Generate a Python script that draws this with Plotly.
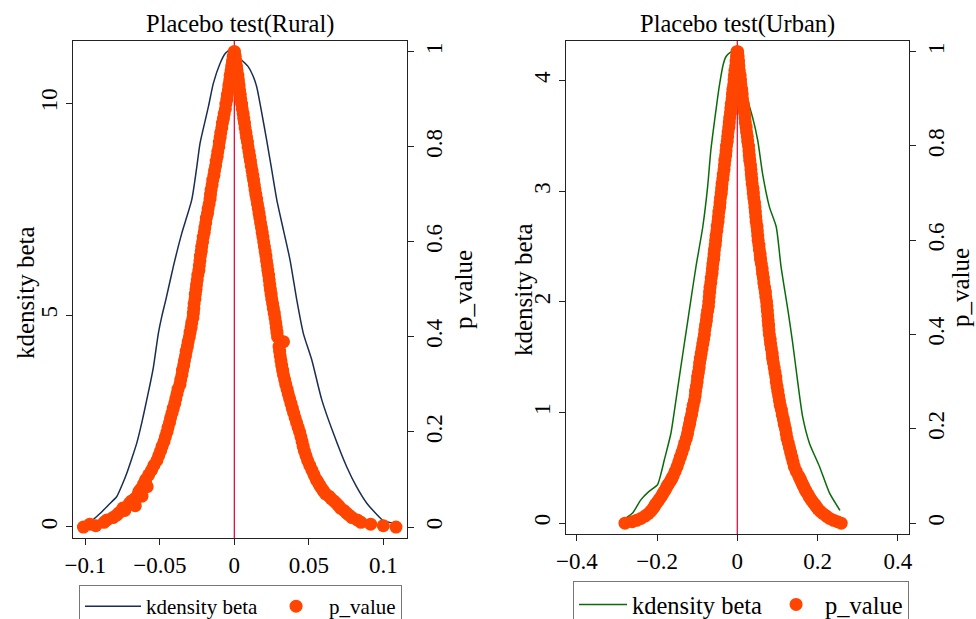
import plotly.graph_objects as go

# ---- data ----
# kdensity of the placebo coefficients
rural_kd_x = [-0.100, -0.0957, -0.0901, -0.0845, -0.0789, -0.0755, -0.0722, -0.0690, -0.0655,
              -0.0620, -0.0588, -0.0565, -0.0543, -0.0510, -0.0485, -0.0460, -0.0410, -0.0353,
              -0.0286, -0.0252, -0.0230, -0.0174, -0.0141, -0.0096, -0.0060, -0.0030, 0.0,
              0.0038, 0.0094, 0.0125, 0.0150, 0.0180, 0.0217, 0.0250, 0.0285, 0.0330, 0.0374,
              0.0419, 0.0463, 0.0520, 0.0587, 0.0665, 0.0754, 0.0820, 0.0889, 0.0950, 0.1000,
              0.1067]
rural_kd_y = [0.10, 0.15, 0.32, 0.52, 0.72, 0.98, 1.27, 1.60, 1.98,
              2.48, 3.00, 3.38, 3.78, 4.57, 5.00, 5.36, 6.14, 6.93,
              7.72, 8.50, 9.06, 9.92, 10.47, 10.94, 11.18, 11.26, 11.24,
              11.06, 10.86, 10.65, 10.39, 9.85, 9.13, 8.45, 7.72, 7.00, 6.30,
              5.36, 4.57, 3.94, 3.00, 2.21, 1.42, 0.95, 0.56, 0.32, 0.15,
              0.09]

urban_kd_x = [-0.278, -0.261, -0.2405, -0.220, -0.199, -0.190, -0.182, -0.1656, -0.153,
              -0.1406, -0.128, -0.1156, -0.103, -0.086, -0.074, -0.066, -0.053, -0.045,
              -0.035, -0.028, -0.020, -0.014, -0.006, 0.0, 0.009, 0.0217, 0.038, 0.051,
              0.063, 0.080, 0.097, 0.109, 0.126, 0.138, 0.151, 0.163, 0.180, 0.205, 0.230,
              0.256]
urban_kd_y = [0.045, 0.09, 0.21, 0.286, 0.346, 0.45, 0.57, 0.81, 1.11,
              1.415, 1.72, 2.02, 2.32, 2.68, 3.04, 3.37, 3.74, 3.95,
              4.15, 4.22, 4.25, 4.26, 4.22, 4.12, 3.95, 3.86, 3.67, 3.46,
              3.16, 2.86, 2.68, 2.32, 1.93, 1.63, 1.265, 0.96, 0.72, 0.51, 0.27,
              0.114]

# p-values of the placebo regressions (same p levels for every branch)
p_levels = [1.00, 0.99, 0.98, 0.97, 0.96, 0.95, 0.94, 0.93, 0.92, 0.91,
            0.90, 0.89, 0.88, 0.87, 0.86, 0.85, 0.84, 0.83, 0.82, 0.81,
            0.80, 0.79, 0.78, 0.77, 0.76, 0.75, 0.74, 0.73, 0.72, 0.71,
            0.70, 0.69, 0.68, 0.67, 0.66, 0.65, 0.64, 0.63, 0.62, 0.61,
            0.60, 0.59, 0.58, 0.57, 0.56, 0.55, 0.54, 0.53, 0.52, 0.51,
            0.50, 0.49, 0.48, 0.47, 0.46, 0.45, 0.44, 0.43, 0.42, 0.41,
            0.40, 0.39, 0.38, 0.37, 0.36, 0.35, 0.34, 0.33, 0.32, 0.31,
            0.30, 0.29, 0.28, 0.27, 0.26, 0.25, 0.24, 0.23, 0.22, 0.21,
            0.20, 0.19, 0.18, 0.17, 0.16, 0.15, 0.14, 0.13, 0.12, 0.11,
            0.10, 0.095, 0.09, 0.085, 0.08, 0.075, 0.07, 0.065, 0.06, 0.055,
            0.05, 0.045, 0.04, 0.035, 0.03, 0.025, 0.02, 0.015, 0.01, 0.006,
            0.003, 0.0]

# placebo coefficient estimates (negative / positive branch)
rural_beta_neg = [-0.0000, -0.0008, -0.0012, -0.0018, -0.0022, -0.0028, -0.0030, -0.0037, -0.0040, -0.0047,
                  -0.0050, -0.0057, -0.0060, -0.0068, -0.0073, -0.0080, -0.0084, -0.0091, -0.0095, -0.0101,
                  -0.0104, -0.0111, -0.0115, -0.0122, -0.0126, -0.0133, -0.0137, -0.0145, -0.0149, -0.0156,
                  -0.0160, -0.0163, -0.0169, -0.0176, -0.0180, -0.0188, -0.0192, -0.0198, -0.0202, -0.0209,
                  -0.0213, -0.0219, -0.0222, -0.0228, -0.0231, -0.0235, -0.0238, -0.0245, -0.0249, -0.0254,
                  -0.0257, -0.0262, -0.0264, -0.0270, -0.0272, -0.0275, -0.0278, -0.0286, -0.0290, -0.0297,
                  -0.0302, -0.0310, -0.0315, -0.0323, -0.0328, -0.0335, -0.0340, -0.0348, -0.0352, -0.0360,
                  -0.0365, -0.0378, -0.0385, -0.0393, -0.0400, -0.0410, -0.0418, -0.0428, -0.0435, -0.0445,
                  -0.0452, -0.0463, -0.0472, -0.0485, -0.0495, -0.0508, -0.0520, -0.0540, -0.0555, -0.0575,
                  -0.0595, -0.0600, -0.0610, -0.0585, -0.0628, -0.0640, -0.0645, -0.0620, -0.0668, -0.0690,
                  -0.0705, -0.0665, -0.0748, -0.0735, -0.0775, -0.0790, -0.0815, -0.0855, -0.0875, -0.0970,
                  -0.0930, -0.1013]
rural_beta_pos = [0.0000, 0.0006, 0.0010, 0.0015, 0.0018, 0.0024, 0.0027, 0.0032, 0.0035, 0.0040,
                  0.0043, 0.0049, 0.0053, 0.0059, 0.0063, 0.0068, 0.0072, 0.0078, 0.0082, 0.0088,
                  0.0092, 0.0098, 0.0103, 0.0108, 0.0113, 0.0119, 0.0124, 0.0129, 0.0134, 0.0139,
                  0.0144, 0.0150, 0.0155, 0.0161, 0.0166, 0.0171, 0.0176, 0.0182, 0.0187, 0.0192,
                  0.0197, 0.0202, 0.0207, 0.0212, 0.0216, 0.0221, 0.0225, 0.0230, 0.0234, 0.0238,
                  0.0242, 0.0247, 0.0251, 0.0257, 0.0262, 0.0268, 0.0273, 0.0278, 0.0282, 0.0286,
                  0.0290, 0.0330, 0.0300, 0.0304, 0.0308, 0.0313, 0.0318, 0.0324, 0.0330, 0.0338,
                  0.0345, 0.0354, 0.0362, 0.0371, 0.0380, 0.0389, 0.0398, 0.0408, 0.0418, 0.0428,
                  0.0438, 0.0447, 0.0455, 0.0462, 0.0470, 0.0481, 0.0492, 0.0506, 0.0520, 0.0535,
                  0.0550, 0.0560, 0.0570, 0.0578, 0.0590, 0.0600, 0.0612, 0.0635, 0.0650, 0.0668,
                  0.0685, 0.0700, 0.0712, 0.0735, 0.0752, 0.0770, 0.0790, 0.0825, 0.0850, 0.0915,
                  0.1000, 0.1085]

urban_beta_neg = [-0.001, -0.002, -0.003, -0.004, -0.006, -0.007, -0.008, -0.009, -0.011, -0.012,
                  -0.013, -0.015, -0.016, -0.017, -0.019, -0.020, -0.021, -0.023, -0.024, -0.025,
                  -0.027, -0.028, -0.029, -0.031, -0.032, -0.033, -0.035, -0.036, -0.038, -0.039,
                  -0.040, -0.042, -0.043, -0.044, -0.046, -0.047, -0.048, -0.050, -0.051, -0.053,
                  -0.054, -0.055, -0.057, -0.058, -0.059, -0.061, -0.062, -0.063, -0.065, -0.066,
                  -0.068, -0.069, -0.070, -0.071, -0.072, -0.074, -0.076, -0.077, -0.079, -0.081,
                  -0.082, -0.084, -0.086, -0.088, -0.090, -0.092, -0.094, -0.095, -0.097, -0.099,
                  -0.100, -0.102, -0.104, -0.105, -0.107, -0.110, -0.112, -0.114, -0.117, -0.119,
                  -0.122, -0.124, -0.127, -0.131, -0.134, -0.138, -0.142, -0.146, -0.150, -0.155,
                  -0.160, -0.163, -0.166, -0.170, -0.174, -0.177, -0.180, -0.184, -0.187, -0.191,
                  -0.195, -0.199, -0.204, -0.207, -0.211, -0.216, -0.222, -0.230, -0.240, -0.251,
                  -0.262, -0.280]
urban_beta_pos = [0.001, 0.002, 0.003, 0.004, 0.005, 0.007, 0.008, 0.009, 0.011, 0.012,
                  0.013, 0.015, 0.016, 0.018, 0.019, 0.020, 0.022, 0.023, 0.025, 0.026,
                  0.028, 0.029, 0.030, 0.031, 0.033, 0.034, 0.035, 0.036, 0.037, 0.039,
                  0.040, 0.041, 0.043, 0.044, 0.045, 0.046, 0.047, 0.049, 0.050, 0.051,
                  0.052, 0.054, 0.055, 0.057, 0.058, 0.060, 0.062, 0.063, 0.065, 0.066,
                  0.068, 0.070, 0.071, 0.073, 0.074, 0.075, 0.076, 0.077, 0.078, 0.079,
                  0.080, 0.082, 0.083, 0.085, 0.087, 0.088, 0.090, 0.092, 0.094, 0.096,
                  0.097, 0.099, 0.101, 0.103, 0.105, 0.107, 0.110, 0.112, 0.115, 0.117,
                  0.120, 0.122, 0.124, 0.127, 0.130, 0.133, 0.136, 0.139, 0.142, 0.147,
                  0.153, 0.156, 0.159, 0.161, 0.164, 0.167, 0.170, 0.173, 0.177, 0.180,
                  0.184, 0.188, 0.193, 0.197, 0.201, 0.207, 0.214, 0.222, 0.230, 0.240,
                  0.250, 0.259]

rural_x_ticks = [-0.1, -0.05, 0, 0.05, 0.1]
urban_x_ticks = [-0.4, -0.2, 0, 0.2, 0.4]
rural_kd_ticks = [0, 5, 10]
urban_kd_ticks = [0, 1, 2, 3, 4]
p_ticks = [0, 0.2, 0.4, 0.6, 0.8, 1]

# ---- styling ----
W, H = 976, 619
FONT = "Liberation Serif"
NAVY = "#1b2d52"
GREEN = "#0b6b0b"
ORANGE = "#ff4500"
REDLINE = "#e3103e"
AXC = "#222222"


def px_x(v):
    return v / W


def px_y(v):
    return 1 - v / H


fig = go.Figure()

fig.add_trace(go.Scatter(x=rural_kd_x, y=rural_kd_y, mode="lines", name="kdensity beta",
                         line=dict(color=NAVY, width=1.5, shape="spline", smoothing=0.6),
                         xaxis="x", yaxis="y", legend="legend"))
fig.add_trace(go.Scatter(x=rural_beta_neg + rural_beta_pos, y=p_levels + p_levels, mode="markers",
                         name="p_value", marker=dict(color=ORANGE, size=13),
                         xaxis="x", yaxis="y2", legend="legend"))
fig.add_trace(go.Scatter(x=urban_kd_x, y=urban_kd_y, mode="lines", name="kdensity beta",
                         line=dict(color=GREEN, width=1.5, shape="spline", smoothing=0.6),
                         xaxis="x2", yaxis="y3", legend="legend2"))
fig.add_trace(go.Scatter(x=urban_beta_neg + urban_beta_pos, y=p_levels + p_levels, mode="markers",
                         name="p_value", marker=dict(color=ORANGE, size=13),
                         xaxis="x2", yaxis="y4", legend="legend2"))

tickfont = dict(family=FONT, size=23, color="black")
common = dict(showline=True, linecolor=AXC, linewidth=1.3, ticks="outside", ticklen=6,
              tickcolor=AXC, tickwidth=1.2, showgrid=False, zeroline=False, tickfont=tickfont,
              automargin=False)

left_dom = [px_x(73), px_x(407)]
right_dom = [px_x(566), px_x(909)]

fig.update_layout(
    width=W, height=H,
    margin=dict(l=0, r=0, t=0, b=0, autoexpand=False),
    paper_bgcolor="white", plot_bgcolor="white",
    font=dict(family=FONT, color="black"),
    xaxis=dict(domain=left_dom, anchor="y", range=[-0.1083, 0.1159], mirror=True,
               tickvals=rural_x_ticks, ticktext=["\u22120.1", "\u22120.05", "0", "0.05", "0.1"], **common),
    yaxis=dict(domain=[px_y(538), px_y(41)], anchor="x", range=[-0.26, 11.47],
               tickvals=rural_kd_ticks, tickangle=-90, **common),
    yaxis2=dict(overlaying="y", side="right", anchor="x", range=[-0.023, 1.0225],
                tickvals=p_ticks, tickangle=-90, **common),
    xaxis2=dict(domain=right_dom, anchor="y3", range=[-0.427, 0.428], mirror=True,
                tickvals=urban_x_ticks, ticktext=["\u22120.4", "\u22120.2", "0", "0.2", "0.4"], **common),
    yaxis3=dict(domain=[px_y(534), px_y(41)], anchor="x2", range=[-0.099, 4.36],
                tickvals=urban_kd_ticks, tickangle=-90, **common),
    yaxis4=dict(overlaying="y3", side="right", anchor="x2", range=[-0.023, 1.0227],
                tickvals=p_ticks, tickangle=-90, **common),
    legend=dict(x=px_x(79), y=px_y(585), xanchor="left", yanchor="top", orientation="h",
                bordercolor="#777777", borderwidth=1, bgcolor="white", itemwidth=56,
                font=dict(family=FONT, size=21, color="black")),
    legend2=dict(x=px_x(573), y=px_y(581), xanchor="left", yanchor="top", orientation="h",
                 bordercolor="#777777", borderwidth=1, bgcolor="white", itemwidth=48,
                 font=dict(family=FONT, size=24.5, color="black")),
)

# vertical reference line at beta = 0
fig.add_shape(type="line", xref="x", yref="y domain", x0=0, x1=0, y0=0, y1=1,
              line=dict(color=REDLINE, width=1.3), layer="below")
fig.add_shape(type="line", xref="x2", yref="y3 domain", x0=0, x1=0, y0=0, y1=1,
              line=dict(color=REDLINE, width=1.3), layer="below")

# titles and axis titles
titlefont = dict(family=FONT, size=24.5, color="black")
for txt, cx in [("Placebo test(Rural)", 240), ("Placebo test(Urban)", 737)]:
    fig.add_annotation(text=txt, x=px_x(cx), y=px_y(24), xref="paper", yref="paper",
                       showarrow=False, font=titlefont, xanchor="center", yanchor="middle")
axisfont = dict(family=FONT, size=25, color="black")
for txt, cx, cy in [("kdensity beta", 25, 293), ("p_value", 463, 290),
                    ("kdensity beta", 523, 290), ("p_value", 960, 288)]:
    fig.add_annotation(text=txt, x=px_x(cx), y=px_y(cy), xref="paper", yref="paper",
                       showarrow=False, font=axisfont, textangle=-90,
                       xanchor="center", yanchor="middle")

fig.write_html("out.html", config={"displayModeBar": False},
               post_script="document.body.style.margin='0';")
